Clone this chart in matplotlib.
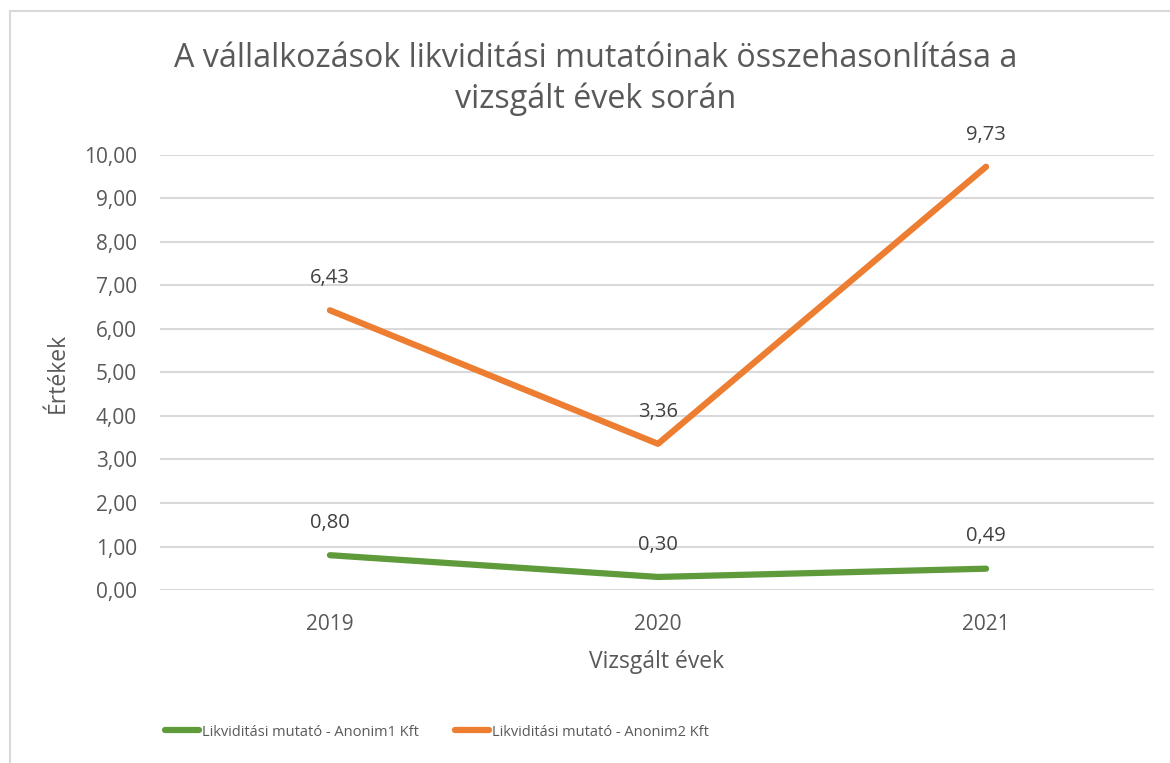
import matplotlib
matplotlib.use("Agg")
import matplotlib.pyplot as plt
from matplotlib.lines import Line2D

# data
years = ["2019", "2020", "2021"]
anonim1 = [0.80, 0.30, 0.49]
anonim2 = [6.43, 3.36, 9.73]
label1 = "Likviditási mutató - Anonim1 Kft"
label2 = "Likviditási mutató - Anonim2 Kft"
y_ticks = [0, 1, 2, 3, 4, 5, 6, 7, 8, 9, 10]

plt.rcParams['font.family'] = ['Open Sans', 'DejaVu Sans']

W, H = 1170, 763
fig = plt.figure(figsize=(11.7, 7.63), dpi=100)
ax = fig.add_axes([160 / W, 1 - 590 / H, 994 / W, 435 / H])

# chart border (only the left and top edges are inside the picture)
fig.add_artist(Line2D([9.5 / W, 9.5 / W], [0, 1 - 11 / H], transform=fig.transFigure,
                      color="#d9d9d9", linewidth=1.5))
fig.add_artist(Line2D([9.5 / W, 1], [1 - 11 / H, 1 - 11 / H], transform=fig.transFigure,
                      color="#d9d9d9", linewidth=1.5))

x = range(len(years))
ax.plot(x, anonim1, color="#5f9b3b", linewidth=4.5, solid_capstyle="round", label=label1)
ax.plot(x, anonim2, color="#ed7d31", linewidth=4.5, solid_capstyle="round", label=label2)

# data labels above the points
for xi, v in zip(x, anonim1):
    ax.annotate(f"{v:.2f}".replace(".", ","), (xi, v), xytext=(0, 16), textcoords="offset points",
                ha="center", va="bottom", fontsize=14.5, color="#404040")
for xi, v in zip(x, anonim2):
    ax.annotate(f"{v:.2f}".replace(".", ","), (xi, v), xytext=(0, 16), textcoords="offset points",
                ha="center", va="bottom", fontsize=14.5, color="#404040")

ax.set_xlim(-0.518, 2.512)
ax.set_ylim(0, 10)
ax.set_xticks(list(x))
ax.set_xticklabels(years)
ax.set_yticks(y_ticks)
ax.set_yticklabels([f"{t:.2f}".replace(".", ",") for t in y_ticks])
ax.tick_params(axis="both", length=0, labelsize=15, colors="#595959")
ax.tick_params(axis="x", pad=17)
ax.tick_params(axis="y", pad=16.5)
ax.grid(axis="y", color="#d9d9d9", linewidth=1.5)
ax.set_axisbelow(True)
for s in ax.spines.values():
    s.set_visible(False)

ax.set_xlabel("Vizsgált évek", fontsize=16.5, color="#595959", labelpad=11)
ax.set_ylabel("Értékek", fontsize=16.5, color="#595959", labelpad=10)

fig.text(596 / W, 1 - 79 / H, "A vállalkozások likviditási mutatóinak összehasonlítása a\nvizsgált évek során",
         ha="center", va="center", fontsize=23.2, color="#595959", linespacing=1.3)

ax.legend(loc="center", bbox_to_anchor=(437 / W, 1 - 732 / H), bbox_transform=fig.transFigure, ncol=2,
          frameon=False, prop={"family": ["Liberation Sans Narrow", "Open Sans"], "size": 10.5},
          labelcolor="#595959", handlelength=2.3, handletextpad=0.2, columnspacing=2.5)

fig.savefig("out.png", dpi=100)
